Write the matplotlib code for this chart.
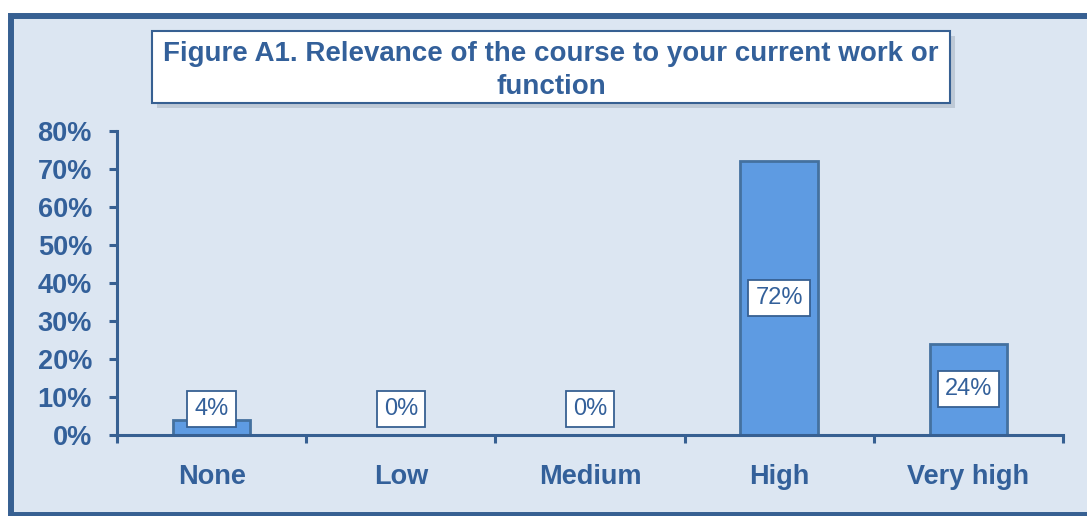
import matplotlib.pyplot as plt
from matplotlib.patches import Rectangle
from matplotlib.ticker import FixedLocator, PercentFormatter

# datos del grafico
categorias = ["None", "Low", "Medium", "High", "Very high"]
valores = [0.04, 0.00, 0.00, 0.72, 0.24]
etiquetas = ["4%", "0%", "0%", "72%", "24%"]
titulo = "Figure A1. Relevance of the course to your current work or\nfunction"

azul_oscuro = "#376092"
azul_texto = "#33609A"
fondo = "#DCE6F2"
azul_barra = "#5E9BE2"

plt.rcParams['font.family'] = ['Liberation Sans', 'DejaVu Sans']

W, H = 1087, 516
fig = plt.figure(figsize=(W / 100, H / 100), dpi=100)
fig.patch.set_facecolor("white")

# marco de fondo
marco = Rectangle((10.5 / W, 1 / H), 1.2, 499.5 / H, transform=fig.transFigure,
                  facecolor=fondo, edgecolor=azul_oscuro, linewidth=4.3, zorder=-1)
fig.patches.append(marco)

# caja del titulo con sombra
sombra = Rectangle((157 / W, 408 / H), 798 / W, 72 / H, transform=fig.transFigure,
                   facecolor="#9AA6B4", edgecolor="none", alpha=0.45, zorder=1)
caja = Rectangle((152 / W, 413 / H), 798 / W, 72 / H, transform=fig.transFigure,
                 facecolor="white", edgecolor=azul_oscuro, linewidth=1.5, zorder=2)
fig.patches.extend([sombra, caja])
fig.text(551 / W, 445.5 / H, titulo, ha="center", va="center", fontsize=20,
         fontweight="bold", color=azul_texto, linespacing=1.33, zorder=3)

ax = fig.add_axes([117 / W, 81 / H, 946 / W, 304 / H])
ax.set_facecolor("none")
ax.set_zorder(5)

x = range(len(categorias))
ax.bar(x, valores, width=0.41, color=azul_barra, edgecolor="#44719F", linewidth=2, zorder=2)

for xi, v, et in zip(x, valores, etiquetas):
    y = v / 2 if v > 0.15 else 0.068
    ax.text(xi, y, et, ha="center", va="center", fontsize=17, color=azul_texto, zorder=4,
            bbox=dict(boxstyle="square,pad=0.3", facecolor="white", edgecolor=azul_oscuro, linewidth=1.3))

ax.set_xlim(-0.5, len(categorias) - 0.5)
ax.set_ylim(0, 0.8)
ax.yaxis.set_major_locator(FixedLocator([i / 10 for i in range(9)]))
ax.yaxis.set_major_formatter(PercentFormatter(1.0, decimals=0))

ax.set_xticks(list(x))
ax.set_xticklabels(categorias)
ax.xaxis.set_minor_locator(FixedLocator([i - 0.5 for i in range(len(categorias) + 1)]))
ax.tick_params(axis="x", which="major", length=0, pad=21, labelsize=19.5, labelcolor=azul_texto)
ax.tick_params(axis="x", which="minor", length=6, width=2.2, color=azul_oscuro, direction="out")
ax.tick_params(axis="y", length=6, width=2.2, color=azul_oscuro, pad=12, labelsize=19.5, labelcolor=azul_texto)
for lab in ax.get_xticklabels() + ax.get_yticklabels():
    lab.set_fontweight("bold")

for lado in ["top", "right"]:
    ax.spines[lado].set_visible(False)
for lado in ["left", "bottom"]:
    ax.spines[lado].set_color(azul_oscuro)
    ax.spines[lado].set_linewidth(2.2)

fig.savefig("out.png", dpi=100)
